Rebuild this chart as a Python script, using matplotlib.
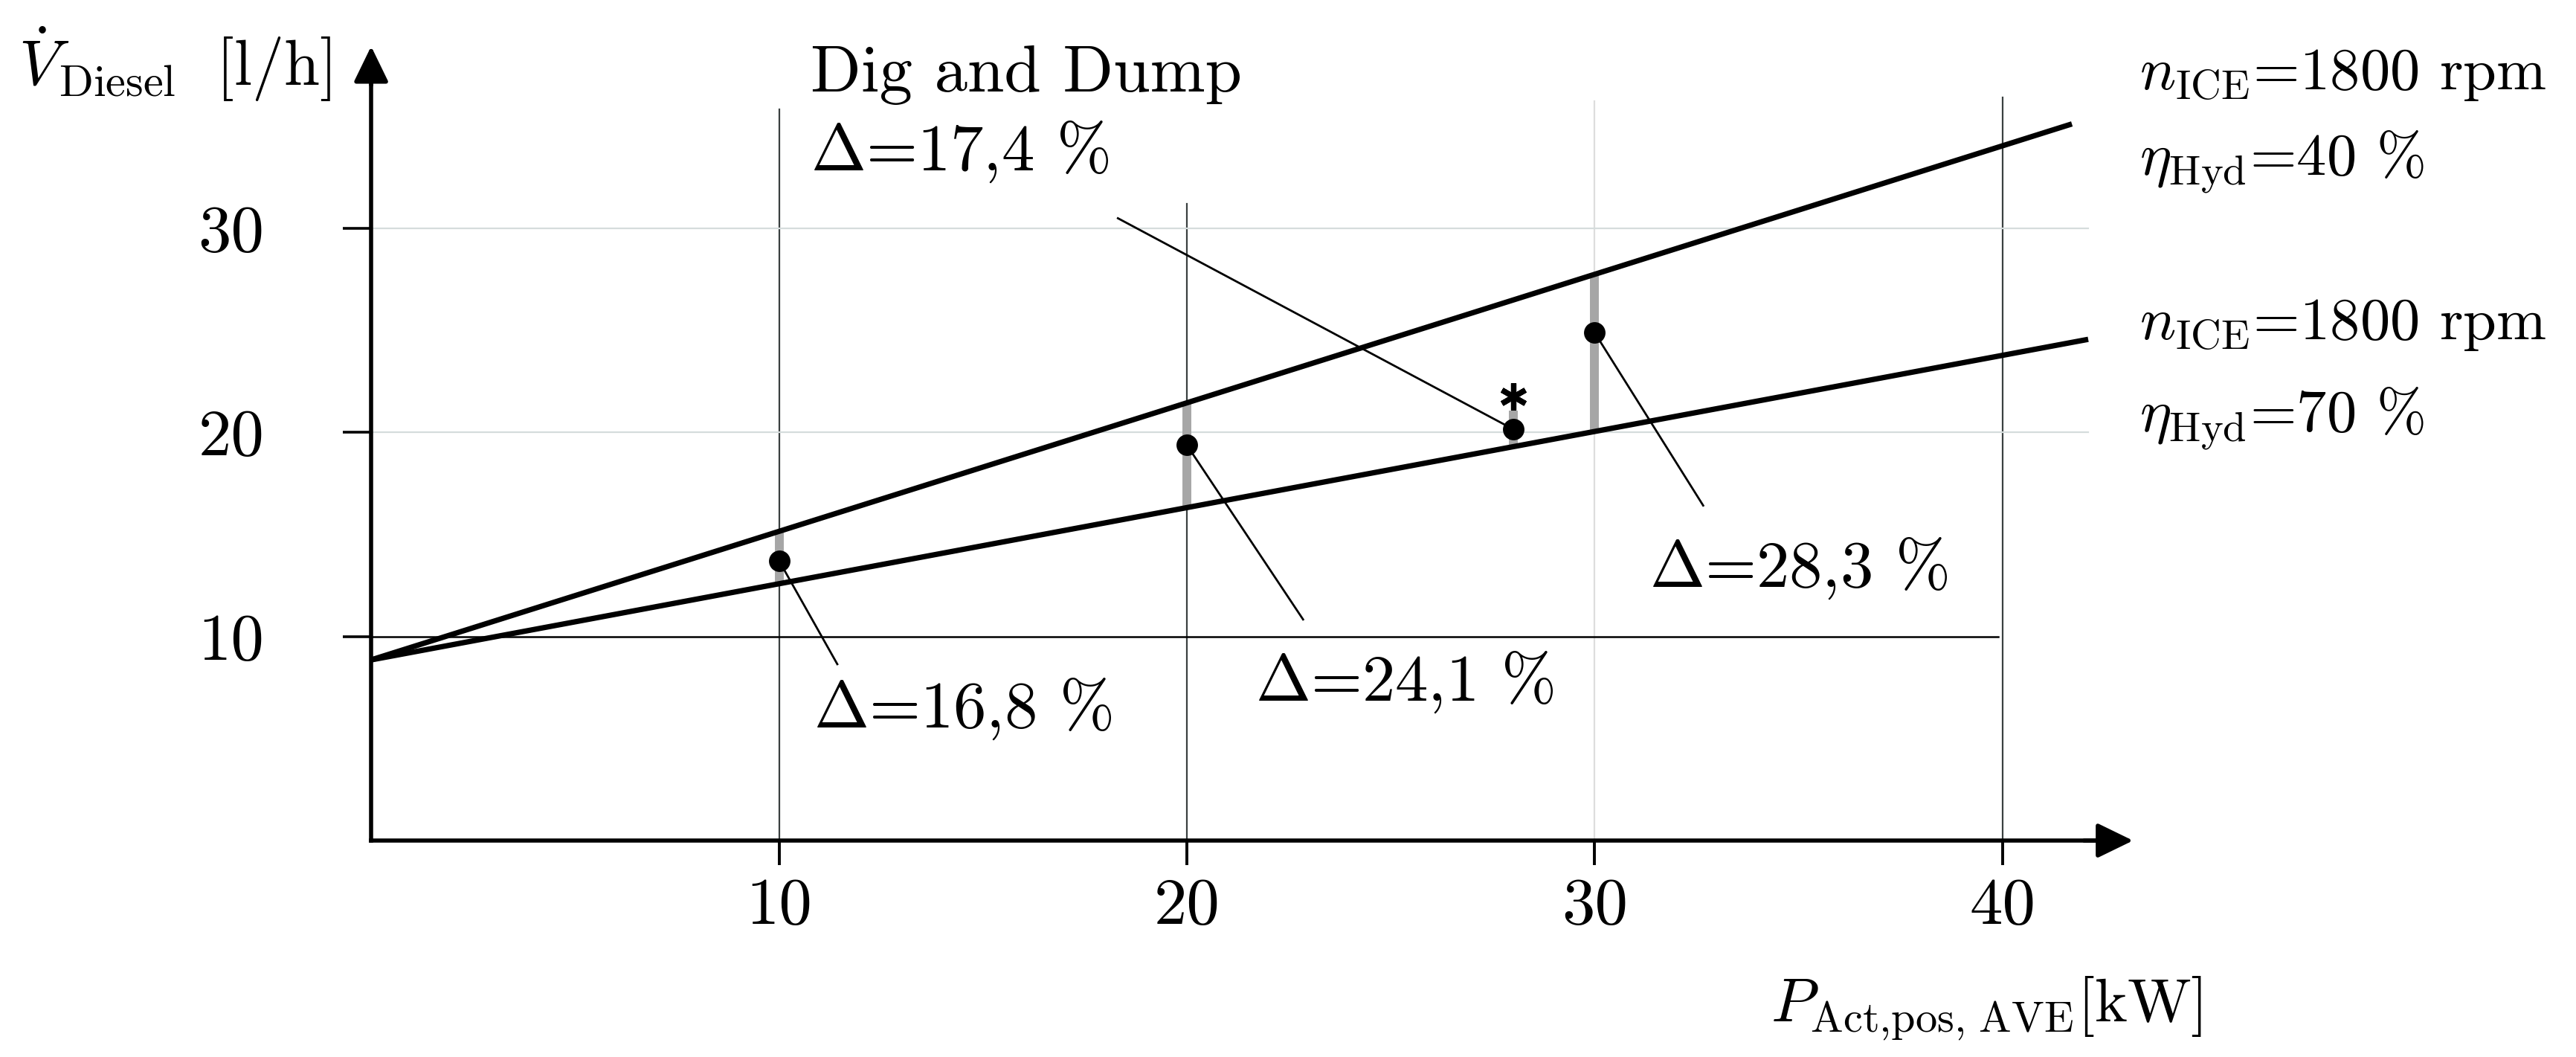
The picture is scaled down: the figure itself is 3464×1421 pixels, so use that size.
import matplotlib
matplotlib.use('Agg')
import matplotlib.pyplot as plt

plt.rcParams['font.family'] = 'cmr10'
plt.rcParams['mathtext.fontset'] = 'cm'
plt.rcParams['axes.unicode_minus'] = False

# fuel consumption lines (start at idle, end at right edge)
p_line_40 = [0, 41.7]
v_line_40 = [8.85, 35.1]
p_line_70 = [0, 42.1]
v_line_70 = [8.85, 24.55]

# measured points
p_meas = [10, 20, 28, 30]
v_meas = [13.71, 19.37, 20.15, 24.87]
# grey bars between the lines (or up to the star at 28 kW)
bar_lo = [12.55, 16.3, 19.34, 20.05]
bar_hi = [15.1, 21.45, 21.06, 27.7]
p_star = [28]
v_star = [21.75]

delta_labels = ['$\\Delta$=16,8 %', '$\\Delta$=24,1 %', '$\\Delta$=17,4 %', '$\\Delta$=28,3 %']
label_pos = [(10.84, 5.55), (21.67, 6.85), (10.78, 32.82), (31.34, 12.43)]
leader_end = [(11.43, 8.64), (22.85, 10.83), (18.31, 30.48), (32.66, 16.41)]

right_labels = ['$n_{\\mathrm{ICE}}$=1800 rpm', '$\\eta_{\\mathrm{Hyd}}$=40 %',
                '$n_{\\mathrm{ICE}}$=1800 rpm', '$\\eta_{\\mathrm{Hyd}}$=70 %']
right_y = [36.8, 32.57, 24.55, 20.02]

xticks = [10, 20, 30, 40]
yticks = [10, 20, 30]
vgrid_top = [35.8, 31.2, 36.2, 36.4]
vgrid_col = ['#3a4040', '#3a4040', '#dddddd', '#3a4040']

fs = 32

fig = plt.figure(figsize=(17.32, 7.105), dpi=200)
ax = fig.add_axes([0, 0, 1, 1])
ax.set_xlim(-9.10, 54.06)
ax.set_ylim(-10.6, 41.17)

# grid
for x, top, c in zip(xticks, vgrid_top, vgrid_col):
    ax.plot([x, x], [0, top], color=c, lw=0.8, zorder=1)
for y in [20, 30]:
    ax.plot([0, 42.1], [y, y], color='#d5dcdc', lw=0.8, zorder=1)
ax.plot([0, 39.9], [10, 10], color='black', lw=0.9, zorder=1)

# grey difference bars
ax.vlines(p_meas, bar_lo, bar_hi, color='#a6a6a6', lw=4.3, zorder=2)

# main lines
ax.plot(p_line_40, v_line_40, color='black', lw=2.6, solid_capstyle='butt', zorder=3)
ax.plot(p_line_70, v_line_70, color='black', lw=2.6, solid_capstyle='butt', zorder=3)

# points
ax.plot(p_meas, v_meas, 'o', color='black', ms=9.4, zorder=5)
ax.plot(p_star, v_star, marker=(6, 2, 0), color='black', ms=13, mew=2.6, ls='none', zorder=5)

# leader lines and labels
for i in range(len(delta_labels)):
    ax.plot([p_meas[i], leader_end[i][0]], [v_meas[i], leader_end[i][1]], color='black', lw=1.0, zorder=4)
    ax.text(label_pos[i][0], label_pos[i][1], delta_labels[i], fontsize=fs, va='baseline', ha='left')
ax.text(10.78, 36.68, 'Dig and Dump', fontsize=fs, va='baseline', ha='left')

for lab, y in zip(right_labels, right_y):
    ax.text(43.35, y, lab, fontsize=29, va='baseline', ha='left')

ax.text(-8.65, 36.98, '$\\dot{V}_{\\mathrm{Diesel}}\\;$ [l/h]', fontsize=31, va='baseline', ha='left')
ax.text(34.32, -8.85, '$P_{\\mathrm{Act{,}pos{,}\\ AVE}}$[kW]', fontsize=30, va='baseline', ha='left')

# axes with arrows
for s in ['top', 'right']:
    ax.spines[s].set_visible(False)
ax.spines['left'].set_position(('data', 0))
ax.spines['bottom'].set_position(('data', 0))
ax.spines['left'].set_bounds(0, 38.0)
ax.spines['bottom'].set_bounds(0, 42.5)
ax.spines['left'].set_linewidth(2)
ax.spines['bottom'].set_linewidth(2)
ax.annotate('', xy=(0, 38.9), xytext=(0, 37.0),
            arrowprops=dict(arrowstyle='-|>,head_length=0.74,head_width=0.36', mutation_scale=20,
                            lw=2, color='black', shrinkA=0, shrinkB=0))
ax.annotate('', xy=(43.2, 0), xytext=(42.0, 0),
            arrowprops=dict(arrowstyle='-|>,head_length=0.74,head_width=0.36', mutation_scale=20,
                            lw=2, color='black', shrinkA=0, shrinkB=0))

ax.set_xticks(xticks)
ax.set_yticks(yticks)
ax.set_xticklabels([str(t) for t in xticks])
ax.set_yticklabels([str(t) for t in yticks])
ax.tick_params(axis='x', direction='out', length=11.9, width=1.4, pad=6, labelsize=fs)
ax.tick_params(axis='y', direction='out', length=13.7, width=1.3, pad=38, labelsize=fs)

fig.savefig('out.png', dpi=200, facecolor='white')
